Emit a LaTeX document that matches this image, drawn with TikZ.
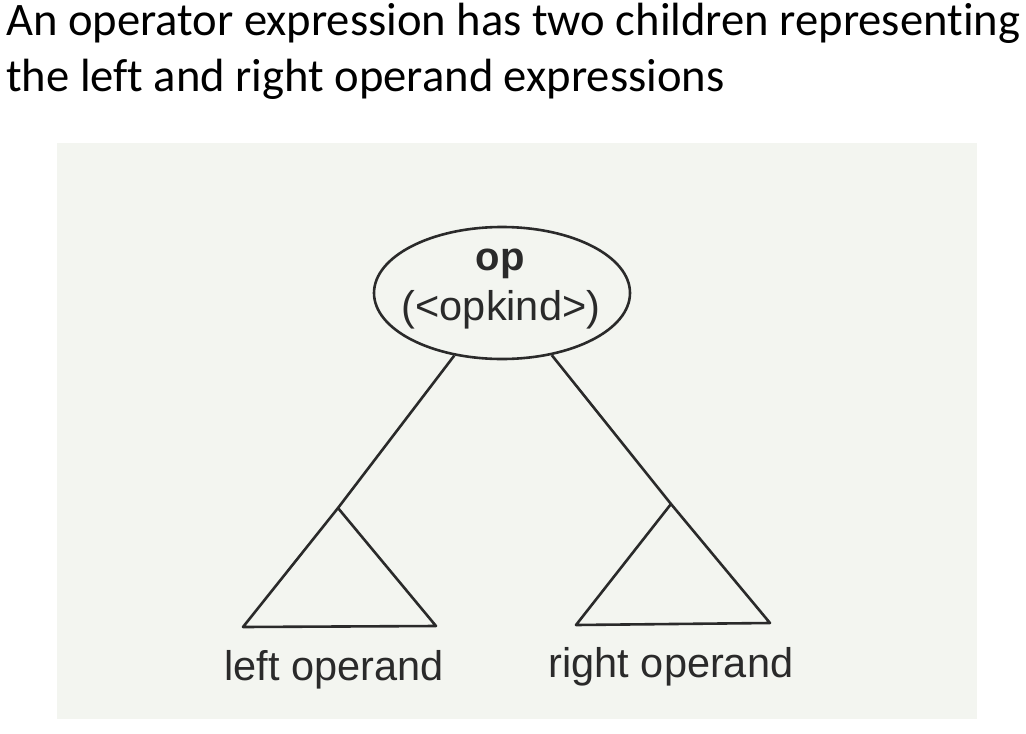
\documentclass[tikz,border=0pt]{standalone}
\usepackage{fontspec}
\setmainfont{Carlito}[Ligatures=NoCommon]
\newfontfamily\diagfont{Liberation Sans}
\usetikzlibrary{shapes.geometric}
\definecolor{scanbg}{HTML}{F3F5F0}
\definecolor{ink}{HTML}{2A2A2A}
\tikzset{
  titletext/.style={anchor=base west, inner sep=0pt, font=\fontsize{46.6}{56}\selectfont, text=black},
  diagtext/.style={anchor=base, inner sep=0pt, font=\diagfont\fontsize{41.5}{49}\selectfont, text=ink},
  treeline/.style={draw=ink, line width=2.6pt, line join=round},
  opellipse/.style={ellipse, draw=ink, line width=2.6pt, inner sep=0pt, minimum width=256pt, minimum height=132pt}
}
\begin{document}
\begin{tikzpicture}[x=1pt,y=-1pt]
\useasboundingbox (0,0) rectangle (1026,734);
\fill[white] (0,0) rectangle (1026,734);
\fill[scanbg] (57,143) rectangle (977,719);
% title
\node[titletext] (t1) at (6,35) {An operator expression has two children representing};
\node[titletext] (t2) at (6,91) {the left and right operand expressions};
% operator ellipse
\node[opellipse] (op) at (502,293) {};
\node[diagtext, font=\diagfont\bfseries\fontsize{40}{48}\selectfont] (opname) at (500,270) {op};
\node[diagtext] (opkind) at (501,320) {(<opkind>)};
% left subtree
\coordinate (lapex) at (338,508);
\coordinate (lbl) at (243,627);
\coordinate (lbr) at (436,626);
\draw[treeline] (lapex) -- (lbl) -- (lbr) -- cycle;
% right subtree
\coordinate (rapex) at (671,504);
\coordinate (rbl) at (576,625);
\coordinate (rbr) at (770,623);
\draw[treeline] (rapex) -- (rbl) -- (rbr) -- cycle;
% connectors
\draw[treeline] (op) -- (lapex);
\draw[treeline] (op) -- (rapex);
% labels
\node[diagtext] (lleft) at (334,680) {left operand};
\node[diagtext] (lright) at (671,677) {right operand};
\end{tikzpicture}
\end{document}
